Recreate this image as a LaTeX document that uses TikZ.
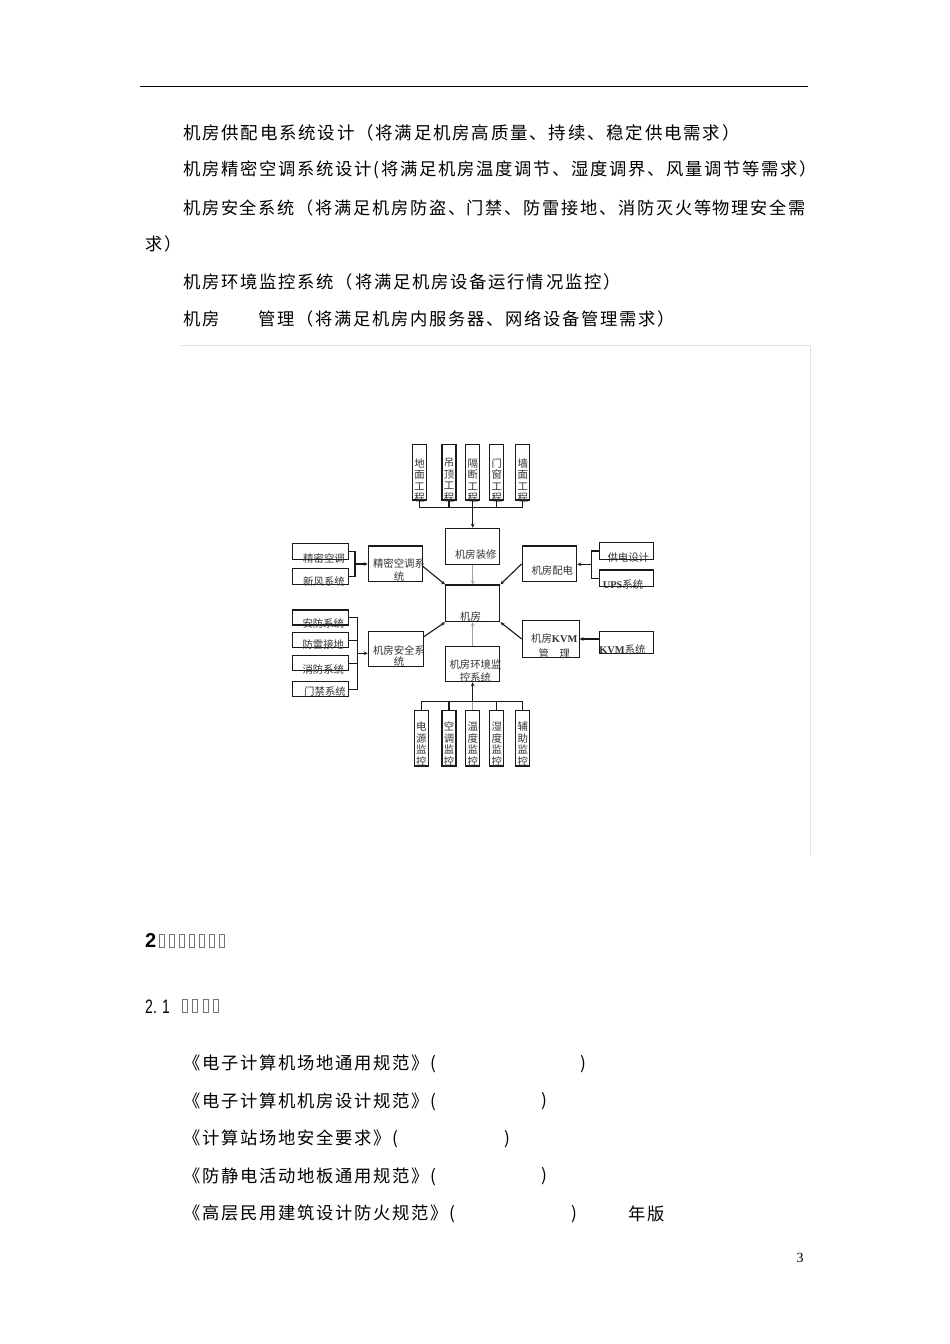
\documentclass[tikz,border=0pt]{standalone}
\usepackage{fontspec}
\setmainfont{Liberation Serif}
\setsansfont{Liberation Sans}
\newfontfamily\cjk{Noto Sans CJK SC}
\newfontfamily\cjkbody{Noto Sans CJK SC}[LetterSpace=10]
\usetikzlibrary{arrows.meta}
\definecolor{lc}{HTML}{1A1A1A}
\definecolor{gl}{HTML}{A0A0A0}
\definecolor{tc}{HTML}{333333}
\definecolor{fr}{HTML}{E0E0E0}
\newcommand{\lat}[1]{{\rmfamily\bfseries #1}}
\begin{document}
\begin{tikzpicture}[x=1pt,y=-1pt,
  box/.style n args={2}{draw=lc,line width=1.1pt,inner sep=0pt,minimum width=#1,minimum height=#2},
  vbox/.style={box={14pt}{55.3pt}},
  sbox/.style={box={55.6pt}{#1}},
  ln/.style={draw=lc,line width=1.1pt},
  gln/.style={draw=gl,line width=1.1pt},
  arr/.style={-{Stealth[length=4pt,width=3.6pt]}},
  lbl/.style={font=\cjk\fontsize{10.4}{11.5}\selectfont,inner sep=0pt,text=tc,align=center},
  body/.style={anchor=west,inner sep=0pt,font=\cjkbody\fontsize{#1}{#1}\selectfont},
  tofu/.style={draw=black!55,line width=0.6pt}
]
\fill[white] (0,0) rectangle (950,1344);
\useasboundingbox (0,0) rectangle (950,1344);

% header rule
\draw[line width=1.6pt,black] (140,86.5) -- (808,86.5);

% body text
\node[body=17.5] (p1) at (183,132.5) {机房供配电系统设计（将满足机房高质量、持续、稳定供电需求）};
\node[body=17.3] (p2) at (183,170) {机房精密空调系统设计(将满足机房温度调节、湿度调界、风量调节等需求）};
\node[body=17.2] (p3) at (183,207.5) {机房安全系统（将满足机房防盗、门禁、防雷接地、消防灭火等物理安全需};
\node[body=17.2] (p3b) at (145,244) {求）};
\node[body=17.36] (p4) at (183,281.5) {机房环境监控系统（将满足机房设备运行情况监控）};
\node[body=17.3] (p5a) at (183,319) {机房};
\node[body=17.3] (p5b) at (258,319) {管理（将满足机房内服务器、网络设备管理需求）};

% frame of figure
\draw[fr,line width=1pt] (181,345) -- (810.7,345) -- (810.7,855.7);

% ---- diagram boxes
\node[vbox] (t1) at (419.5,472.3) {};
\node[vbox] (t2) at (449,472.3) {};
\node[vbox] (t3) at (472.7,472.3) {};
\node[vbox] (t4) at (496.7,472.3) {};
\node[vbox] (t5) at (522.8,472.3) {};

\node[box={54.3pt}{36pt}] (zx) at (472.7,546.3) {};
\node[box={54.3pt}{36.7pt}] (jf) at (472.7,603.3) {};
\node[box={54.4pt}{35.7pt}] (kt) at (395.5,563.8) {};
\node[box={54.4pt}{35.7pt}] (pd) at (549.5,563.8) {};
\node[box={55pt}{35pt}] (aq) at (395.8,649.2) {};
\node[box={54.3pt}{35pt}] (hj) at (472.7,664.2) {};
\node[box={56.7pt}{36.6pt}] (kvm) at (550.7,639) {};

\node[sbox=16pt] (l1) at (320.5,551.3) {};
\node[sbox=15.7pt] (l2) at (320.5,576.2) {};
\node[sbox=15pt] (s1) at (320.5,617.5) {};
\node[sbox=15pt] (s2) at (320.5,640.2) {};
\node[sbox=15pt] (s3) at (320.5,663.2) {};
\node[sbox=15pt] (s4) at (320.5,689.2) {};

\node[box={54pt}{16.6pt}] (r1) at (626.3,551) {};
\node[box={54pt}{16.7pt}] (r2) at (626.3,578.3) {};
\node[box={54pt}{21.6pt}] (r3) at (626.3,642.5) {};

\node[vbox] (b1) at (421.3,738.3) {};
\node[vbox] (b2) at (449,738.3) {};
\node[vbox] (b3) at (472.7,738.3) {};
\node[vbox] (b4) at (496.7,738.3) {};
\node[vbox] (b5) at (522.8,738.3) {};

% ---- labels
\node[lbl] (tt1) at (419.5,480.5) {地\\面\\工\\程};
\node[lbl] (tt2) at (449,480.5) {吊\\顶\\工\\程};
\node[lbl] (tt3) at (472.7,480.5) {隔\\断\\工\\程};
\node[lbl] (tt4) at (496.7,480.5) {门\\窗\\工\\程};
\node[lbl] (tt5) at (522.8,480.5) {墙\\面\\工\\程};

\node[lbl] (bt1) at (421.3,744.2) {电\\源\\监\\控};
\node[lbl] (bt2) at (449,744.2) {空\\调\\监\\控};
\node[lbl] (bt3) at (472.7,744.2) {温\\度\\监\\控};
\node[lbl] (bt4) at (496.7,744.2) {湿\\度\\监\\控};
\node[lbl] (bt5) at (522.8,744.2) {辅\\助\\监\\控};

\node[lbl] (zxt) at (475.8,554.3) {机房装修};
\node[lbl] (jft) at (470.5,616.7) {机房};
\node[lbl,font=\cjk\fontsize{10.4}{13.4}\selectfont] (ktt) at (399,570) {精密空调系\\统};
\node[lbl] (pdt) at (552.3,571) {机房配电};
\node[lbl,font=\cjk\fontsize{10.4}{10.7}\selectfont] (aqt) at (399,656.3) {机房安全系\\统};
\node[lbl,font=\cjk\fontsize{10.4}{13.3}\selectfont] (hjt) at (475.5,670.7) {机房环境监\\控系统};
\node[lbl,font=\cjk\fontsize{10.4}{15}\selectfont] (kvmt) at (554.3,645.8) {机房\lat{KVM}\\管　理};

\node[lbl] (l1t) at (324,558.3) {精密空调};
\node[lbl] (l2t) at (324,581.7) {新风系统};
\node[lbl] (s1t) at (323.3,623.3) {安防系统};
\node[lbl] (s2t) at (323.3,644.3) {防雷接地};
\node[lbl] (s3t) at (323.3,670) {消防系统};
\node[lbl] (s4t) at (325,691.7) {门禁系统};
\node[lbl] (r1t) at (628.3,557.7) {供电设计};
\node[lbl] (r2t) at (623,584.3) {\lat{UPS}系统};
\node[lbl] (r3t) at (622.5,649.3) {\lat{KVM}系统};

% ---- connectors
\coordinate (tbus) at (472.7,507.7);
\draw[ln] (t1.south) |- (tbus) -| (t5.south);
\draw[ln] (t2.south) -- (t2.south |- tbus);
\draw[ln] (t4.south) -- (t4.south |- tbus);
\draw[ln] (t3.south) -- (tbus);
\draw[ln,arr] (tbus) -- (zx.north);
\draw[gln,arr] (zx.south) -- (jf.north);

\coordinate (bbus) at (472.7,701.7);
\draw[ln] (b1.north) |- (bbus) -| (b5.north);
\draw[ln] (b2.north) -- (b2.north |- bbus);
\draw[ln] (b4.north) -- (b4.north |- bbus);
\draw[gln] (b3.north) -- (bbus);
\draw[ln,arr] (bbus) -- (hj.south);
\draw[gln,arr] (hj.north) -- (jf.south);

\coordinate (lj) at (355,564);
\draw[ln] (l1.east) -| (lj) |- (l2.east);
\draw[ln,arr] (lj) -- (lj -| kt.west);

\coordinate (rj) at (591.7,564.3);
\draw[ln] (r1.west) -| (rj) |- (r2.west);
\draw[ln,arr] (rj) -- (rj -| pd.east);

\coordinate (sj) at (357.3,653.3);
\draw[ln] (s1.east) -| (sj) |- (s4.east);
\draw[ln] (s2.east) -- (s2.east -| sj);
\draw[ln] (s3.east) -- (s3.east -| sj);
\draw[ln,arr] (sj) -- (sj -| aq.west);

\draw[ln,arr] (r3.west |- kvm.east) -- (kvm.east);

\draw[ln,arr] (kt.-6) -- (jf.north west);
\draw[ln,arr] (pd.west) -- (jf.north east);
\draw[ln,arr] (aq.24) -- (jf.south west);
\draw[ln,arr] (kvm.west) -- (jf.south east);

% ---- section heading
\node[anchor=base west,inner sep=0pt,font=\sffamily\bfseries\fontsize{20}{20}\selectfont] (h2) at (145,947.3) {2};
\foreach \i in {0,...,6} \draw[tofu] (159.5+10*\i,933.8) rectangle ++(5,13);
\node[anchor=base west,inner sep=0pt,font=\sffamily\fontsize{19.5}{19.5}\selectfont] (h21) at (145,1013) {\scalebox{0.72}[1]{2. 1}};
\foreach \i in {0,...,3} \draw[tofu] (182+10.5*\i,999.5) rectangle ++(5,13);

% ---- references
\node[body=17.3] (q1) at (183,1064) {《电子计算机场地通用规范》(};
\node[body=17.3] (q1e) at (580,1064) {)};
\node[body=17.3] (q2) at (183,1101.5) {《电子计算机机房设计规范》(};
\node[body=17.3] (q2e) at (541,1101.5) {)};
\node[body=17.3] (q3) at (183,1139) {《计算站场地安全要求》(};
\node[body=17.3] (q3e) at (504,1139) {)};
\node[body=17.3] (q4) at (183,1176.5) {《防静电活动地板通用规范》(};
\node[body=17.3] (q4e) at (541,1176.5) {)};
\node[body=17.3] (q5) at (183,1214) {《高层民用建筑设计防火规范》(};
\node[body=17.3] (q5e) at (571,1214) {)};
\node[body=17.3] (q5y) at (628,1214) {年版};

% page number
\node[inner sep=0pt,font=\fontsize{14}{14}\selectfont] (pg) at (800,1258) {3};
\end{tikzpicture}
\end{document}
